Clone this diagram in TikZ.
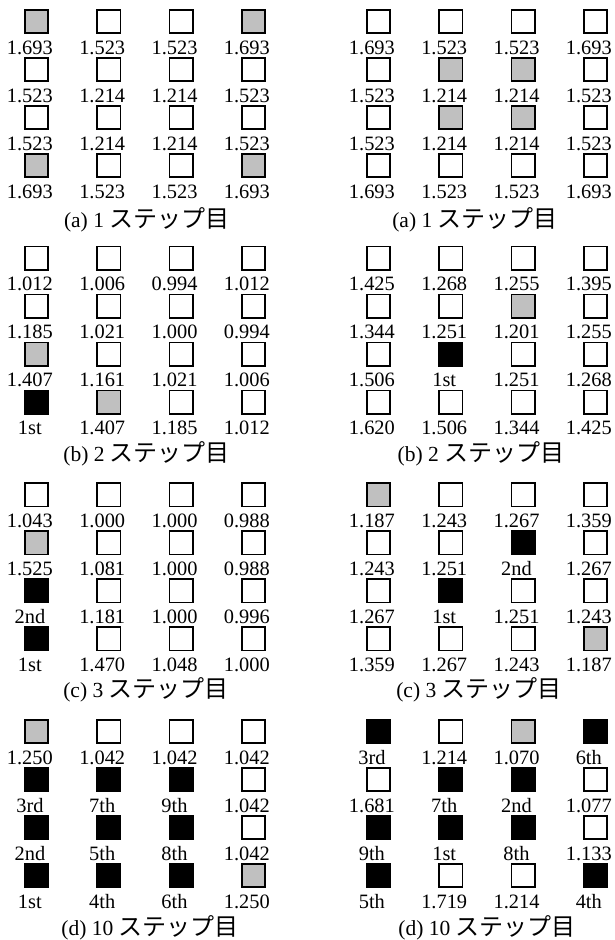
\documentclass[tikz,border=0pt]{standalone}
\usepackage{fontspec}
\setmainfont{Liberation Serif}
\newfontfamily\jpfont{Noto Sans CJK JP}[Scale=1.116]
\usetikzlibrary{positioning}
\definecolor{cellGray}{HTML}{C0C0C0}
\colorlet{W}{white}
\colorlet{G}{cellGray}
\colorlet{K}{black}

\tikzset{
  cell/.style={draw=black, line width=1.7pt, minimum size=23.3pt, inner sep=0pt},
  val/.style={anchor=base, inner sep=0pt, font=\fontsize{20.4}{22}\selectfont},
  caption/.style={anchor=base, inner sep=0pt, font=\fontsize{21.5}{24}\selectfont}
}

\newcommand{\cellgrid}[4]{%
  \foreach [count=\k from 0] \f/\v in {#4} {
    \pgfmathtruncatemacro{\rr}{\k/4}
    \pgfmathtruncatemacro{\cc}{mod(\k,4)}
    \node[cell, fill=\f] (#1-\rr-\cc) at ({#2+72.3*\cc},{#3+48*\rr}) {};
    \node[val] (#1-v\rr-\cc) at ([xshift=-6.6pt, yshift=-32.5pt]#1-\rr-\cc.center) {\v};
  }
}

\begin{document}
\begin{tikzpicture}[x=1pt, y=-1pt]
  \useasboundingbox (0,0) rectangle (615,940);

  % left column
  \cellgrid{La}{36.5}{21.5}{G/1.693, W/1.523, W/1.523, G/1.693,
    W/1.523, W/1.214, W/1.214, W/1.523,
    W/1.523, W/1.214, W/1.214, W/1.523,
    G/1.693, W/1.523, W/1.523, G/1.693}
  \node[caption] (capLa) at (146.7,227) {(a) 1 {\jpfont ステップ目}};

  \cellgrid{Lb}{36.5}{258.2}{W/1.012, W/1.006, W/0.994, W/1.012,
    W/1.185, W/1.021, W/1.000, W/0.994,
    G/1.407, W/1.161, W/1.021, W/1.006,
    K/1st, G/1.407, W/1.185, W/1.012}
  \node[caption] (capLb) at (146.7,461) {(b) 2 {\jpfont ステップ目}};

  \cellgrid{Lc}{36.5}{494.9}{W/1.043, W/1.000, W/1.000, W/0.988,
    G/1.525, W/1.081, W/1.000, W/0.988,
    K/2nd, W/1.181, W/1.000, W/0.996,
    K/1st, W/1.470, W/1.048, W/1.000}
  \node[caption] (capLc) at (146,697) {(c) 3 {\jpfont ステップ目}};

  \cellgrid{Ld}{36.5}{731.6}{G/1.250, W/1.042, W/1.042, W/1.042,
    K/3rd, K/7th, K/9th, W/1.042,
    K/2nd, K/5th, K/8th, W/1.042,
    K/1st, K/4th, K/6th, G/1.250}
  \node[caption] (capLd) at (150,935) {(d) 10 {\jpfont ステップ目}};

  % right column
  \cellgrid{Ra}{378.5}{21.5}{W/1.693, W/1.523, W/1.523, W/1.693,
    W/1.523, G/1.214, G/1.214, W/1.523,
    W/1.523, G/1.214, G/1.214, W/1.523,
    W/1.693, W/1.523, W/1.523, W/1.693}
  \node[caption] (capRa) at (475,227) {(a) 1 {\jpfont ステップ目}};

  \cellgrid{Rb}{378.5}{258.2}{W/1.425, W/1.268, W/1.255, W/1.395,
    W/1.344, W/1.251, G/1.201, W/1.255,
    W/1.506, K/1st, W/1.251, W/1.268,
    W/1.620, W/1.506, W/1.344, W/1.425}
  \node[caption] (capRb) at (481,461) {(b) 2 {\jpfont ステップ目}};

  \cellgrid{Rc}{378.5}{494.9}{G/1.187, W/1.243, W/1.267, W/1.359,
    W/1.243, W/1.251, K/2nd, W/1.267,
    W/1.267, K/1st, W/1.251, W/1.243,
    W/1.359, W/1.267, W/1.243, G/1.187}
  \node[caption] (capRc) at (479,697) {(c) 3 {\jpfont ステップ目}};

  \cellgrid{Rd}{378.5}{731.6}{K/3rd, W/1.214, G/1.070, K/6th,
    W/1.681, K/7th, K/2nd, W/1.077,
    K/9th, K/1st, K/8th, W/1.133,
    K/5th, W/1.719, W/1.214, K/4th}
  \node[caption] (capRd) at (487,935) {(d) 10 {\jpfont ステップ目}};
\end{tikzpicture}
\end{document}
